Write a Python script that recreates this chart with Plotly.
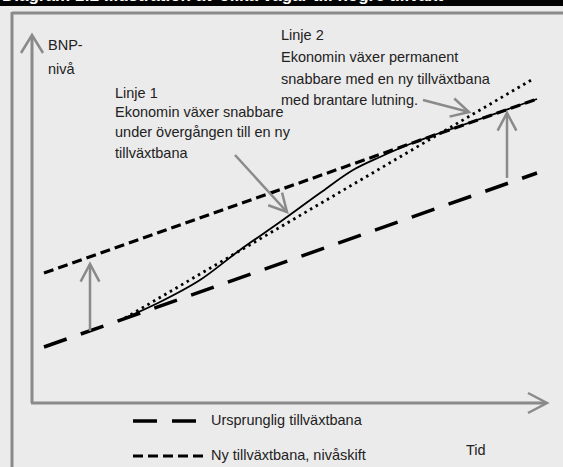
import numpy as np
import plotly.graph_objects as go

# diagram coordinates: x = time position, y = level (both in chart units, y up)
W, H = 563, 467

ursprunglig_x = [44, 537]
ursprunglig_y = [120, 294]

nivaskift_x = [44, 537]
nivaskift_y = [194, 368]

linje1_x = [125, 160, 200, 240, 280, 320, 353, 380, 410, 440, 537]
linje1_y = [149, 165, 187, 217, 245, 274, 297, 310, 323, 334, 368]

linje2_x = [125, 533]
linje2_y = [149, 388]

legend_labels = ["Ursprunglig tillväxtbana", "Ny tillväxtbana, nivåskift"]
legend_x = [133, 205]
legend_y = [46, 11]

GRAY = "#8a8a8a"
BG = "#ebebeb"
FONT = "Liberation Sans Narrow, Arial Narrow, Liberation Sans, Arial, sans-serif"
LONG_DASH = dict(color="black", width=3.5, dash="24px,15px")
SHORT_DASH = dict(color="black", width=3.2, dash="10px,5px")


def py(v):
    # pixel-from-top to chart level
    return H - v


def chevron(tail, tip, size=20, ang=28):
    tx, ty = tail[0], py(tail[1])
    hx, hy = tip[0], py(tip[1])
    d = np.arctan2(ty - hy, tx - hx)
    a = np.radians(ang)
    p1 = (hx + size * np.cos(d + a), hy + size * np.sin(d + a))
    p2 = (hx + size * np.cos(d - a), hy + size * np.sin(d - a))
    return [
        dict(type="line", x0=tx, y0=ty, x1=hx, y1=hy, line=dict(color=GRAY, width=2.5)),
        dict(type="path", path="M %f %f L %f %f L %f %f" % (p1[0], p1[1], hx, hy, p2[0], p2[1]),
             line=dict(color=GRAY, width=2.5)),
    ]


fig = go.Figure()

fig.add_trace(go.Scatter(x=ursprunglig_x, y=ursprunglig_y, mode="lines", line=LONG_DASH))
fig.add_trace(go.Scatter(x=nivaskift_x, y=nivaskift_y, mode="lines", line=SHORT_DASH))
fig.add_trace(go.Scatter(x=linje2_x, y=linje2_y, mode="lines",
                         line=dict(color="black", width=2.8, dash="2.5px,4px")))
fig.add_trace(go.Scatter(x=linje1_x, y=linje1_y, mode="lines", line_shape="spline",
                         line=dict(color="black", width=1.8)))
# legend samples
fig.add_trace(go.Scatter(x=legend_x, y=[legend_y[0]] * 2, mode="lines", line=LONG_DASH))
fig.add_trace(go.Scatter(x=legend_x, y=[legend_y[1]] * 2, mode="lines", line=SHORT_DASH))

shapes = []
# title band
shapes.append(dict(type="rect", x0=0, x1=W, y0=py(6), y1=H, fillcolor="black", line_width=0))
# outer frame
shapes.append(dict(type="line", x0=12, x1=W + 5, y0=py(13), y1=py(13), line=dict(color=GRAY, width=3)))
shapes.append(dict(type="line", x0=12, x1=12, y0=py(12), y1=-5, line=dict(color=GRAY, width=3)))
# axes
shapes.append(dict(type="line", x0=32, x1=32, y0=py(403), y1=py(36), line=dict(color=GRAY, width=3)))
shapes.append(dict(type="line", x0=31, x1=546, y0=py(403), y1=py(403), line=dict(color=GRAY, width=3)))
shapes.append(dict(type="path", path="M 21 %f L 32 %f L 43 %f" % (py(53), py(35), py(53)),
                   line=dict(color=GRAY, width=2.5)))
shapes.append(dict(type="path", path="M 528 %f L 547 %f L 528 %f" % (py(393), py(403), py(413)),
                   line=dict(color=GRAY, width=2.5)))
# level-shift arrows and pointer arrows
shapes += chevron((90, 331), (90, 264))
shapes += chevron((507, 178), (507, 113))
shapes += chevron((235, 155), (287, 212))
shapes += chevron((423, 100), (469, 112))

ann = []


def txt(x, y, s, size=14.5, color="#222222"):
    ann.append(dict(x=x, y=py(y), text=s, showarrow=False, xanchor="left", yanchor="middle",
                    font=dict(family=FONT, size=size, color=color)))


ann.append(dict(x=0, xref="paper", y=1, yref="paper", yshift=-7,
                text="<b>Diagram 1:2 Illustration av olika vägar till högre tillväxt</b>",
                showarrow=False, xanchor="left", yanchor="bottom",
                font=dict(family="Liberation Sans, Arial, sans-serif", size=17, color="white")))

txt(46, 45, "BNP-")
txt(46, 69, "nivå")
txt(113, 93, "Linje 1")
txt(113, 112, "Ekonomin växer snabbare")
txt(113, 132, "under övergången till en ny")
txt(113, 153, "tillväxtbana")
txt(279, 35, "Linje 2")
txt(279, 57, "Ekonomin växer permanent")
txt(279, 79, "snabbare med en ny tillväxtbana")
txt(279, 100, "med brantare lutning.")
txt(209, 420, legend_labels[0])
txt(209, 455, legend_labels[1])
txt(464, 450, "Tid")

fig.update_layout(
    width=W, height=H,
    margin=dict(l=0, r=0, t=0, b=0),
    paper_bgcolor=BG, plot_bgcolor=BG,
    showlegend=False,
    xaxis=dict(range=[0, W], visible=False, fixedrange=True),
    yaxis=dict(range=[0, H], visible=False, fixedrange=True),
    shapes=shapes,
    annotations=ann,
)

fig.write_html("out.html", config={"displayModeBar": False},
               post_script="document.body.style.margin='0';")
